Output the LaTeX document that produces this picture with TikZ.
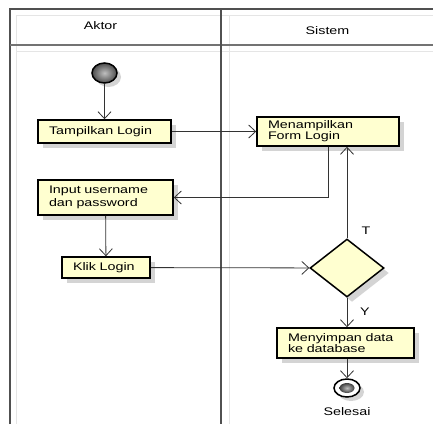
\documentclass[tikz,border=0pt]{standalone}
\usepackage{fontspec}
\usetikzlibrary{arrows.meta,shapes.geometric,shadows}
\newfontfamily\lblfont[FakeStretch=1.3]{Liberation Sans}
\definecolor{boxfill}{RGB}{255,255,208}
\definecolor{shadowgray}{RGB}{212,212,212}
\definecolor{framegray}{RGB}{80,80,80}
\begin{document}
\begin{tikzpicture}[x=1pt,y=-1pt,
  every node/.style={font=\lblfont\fontsize{11}{13}\selectfont},
  actbox/.style={draw=black,line width=1.5pt,fill=boxfill,rectangle,align=left,
    inner xsep=11pt,inner ysep=2pt,anchor=center,
    drop shadow={shadow xshift=5pt,shadow yshift=-5pt,fill=shadowgray,opacity=1}},
  flow/.style={draw=black!80,line width=0.8pt,-{Straight Barb[length=7pt,width=13pt,line width=0.8pt]}},
  lane/.style={draw=framegray,line width=1.6pt},
  faint/.style={draw=black!10,line width=1pt}]
\useasboundingbox (0,0) rectangle (433,424);
% swimlane frame
\draw[faint] (16,424) -- (16,15) -- (433,15);
\draw[faint] (16,51) -- (433,51);
\draw[faint] (229,15) -- (229,424);
\draw[lane] (10,424) -- (10,9) -- (433,9);
\draw[lane,draw=black!55] (10,45) -- (433,45);
\draw[lane] (221,9) -- (221,424);
\node (hA) at (100.5,26) {Aktor};
\node (hS) at (327.5,31) {Sistem};
% nodes
\node[ellipse,draw=black,line width=1.5pt,minimum width=25pt,minimum height=20pt,inner sep=0pt,
  inner color=gray!50,outer color=black!70,
  drop shadow={shadow xshift=4pt,shadow yshift=-4pt,fill=shadowgray,opacity=1}] (start) at (104.5,73) {};
\node[actbox,text width=111pt,minimum height=23pt] (tamp) at (104.5,131.5) {Tampilkan Login};
\node[actbox,text width=120pt,minimum height=29pt] (menam) at (328,131.5) {Menampilkan\\[-2pt]Form Login};
\node[actbox,text width=113pt,minimum height=35pt] (input) at (105.5,197.5) {Input username\\dan password};
\node[actbox,text width=66pt,minimum height=21pt] (klik) at (106,267.5) {Klik Login};
\node[diamond,draw=black,line width=1.5pt,fill=boxfill,minimum width=74pt,minimum height=58pt,inner sep=0pt,
  drop shadow={shadow xshift=5pt,shadow yshift=-5pt,fill=shadowgray,opacity=1}] (dec) at (347,268) {};
\node[actbox,text width=115pt,minimum height=30pt] (simpan) at (345.5,343) {Menyimpan data\\[-2pt]ke database};
\node[ellipse,draw=black,line width=1.5pt,minimum width=26pt,minimum height=18pt,inner sep=0pt,fill=white,
  drop shadow={shadow xshift=4pt,shadow yshift=-4pt,fill=shadowgray,opacity=1}] (end) at (347,388) {};
\node[ellipse,minimum width=15pt,minimum height=10pt,inner sep=0pt,inner color=gray!50,outer color=black!75] (endin) at (end.center) {};
% labels
\node (lT) at (366,231) {T};
\node (lY) at (365,312) {Y};
\node (lSel) at (347,412) {Selesai};
% connectors
\draw[flow] (start) -- (tamp);
\draw[flow] (tamp) -- (menam);
\draw[flow] (menam.south) |- (input.east);
\draw[flow] (input) -- (klik);
\draw[flow] (klik) -- (dec);
\draw[flow] (dec.north) -- (dec.north |- menam.south);
\draw[flow] (dec.south) -- (dec.south |- simpan.north);
\draw[flow] (simpan.south -| end) -- (end.north);
\end{tikzpicture}
\end{document}
